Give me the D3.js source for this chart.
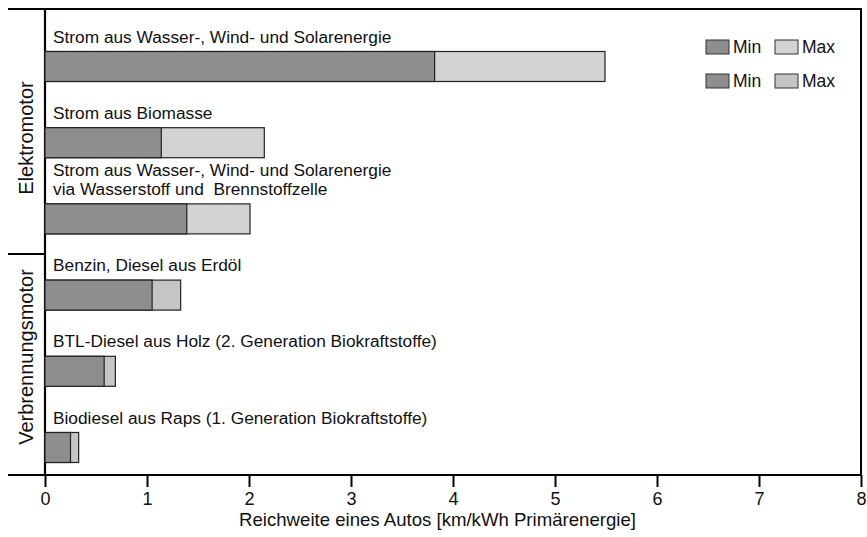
<!DOCTYPE html>
<html>
<head>
<meta charset="utf-8">
<script src="https://cdn.jsdelivr.net/npm/d3@7"></script>
<style>
  html, body { margin: 0; padding: 0; background: #fff; }
  text { font-family: "Liberation Sans", Arial, Helvetica, sans-serif; fill: #111; }
</style>
</head>
<body>
<svg id="chart" width="867" height="537"></svg>
<script>
// ---- data ----
const categories = [
  "Strom aus Wasser-, Wind- und Solarenergie",
  "Strom aus Biomasse",
  "Strom aus Wasser-, Wind- und Solarenergie|via Wasserstoff und  Brennstoffzelle",
  "Benzin, Diesel aus Erdöl",
  "BTL-Diesel aus Holz (2. Generation Biokraftstoffe)",
  "Biodiesel aus Raps (1. Generation Biokraftstoffe)"
];
const minValues = [3.82, 1.14, 1.39, 1.05, 0.58, 0.25];
const maxValues = [5.49, 2.15, 2.01, 1.33, 0.69, 0.33];
const groupNames = ["Elektromotor", "Verbrennungsmotor"];
const groupOf = [0, 0, 0, 1, 1, 1];
const xTicks = [0, 1, 2, 3, 4, 5, 6, 7, 8];
const legendLabels = ["Min", "Max"];
const axisTitle = "Reichweite eines Autos [km/kWh Primärenergie]";

// ---- styles ----
const minColor = "#8e8e8e";
const maxColors = ["#d3d3d3", "#c5c5c5"];

const svg = d3.select("#chart");
const frameTop = 9, frameLeft = 8, frameRight = 862, axisY = 475;

const x = d3.scaleLinear().domain([0, 8]).range([45, 861]);
const y = d3.scalePoint().domain(categories).range([66.5, 447.5]);
const barH = 30;

// frame lines
svg.append("line").attr("x1", frameLeft).attr("x2", frameRight).attr("y1", frameTop).attr("y2", frameTop)
  .attr("stroke", "#000").attr("stroke-width", 2.2);
svg.append("line").attr("x1", x(8)).attr("x2", x(8)).attr("y1", frameTop).attr("y2", axisY)
  .attr("stroke", "#000").attr("stroke-width", 2);
svg.append("line").attr("x1", x(0)).attr("x2", x(0)).attr("y1", frameTop).attr("y2", axisY)
  .attr("stroke", "#000").attr("stroke-width", 2.2);

// bars
const rows = categories.map((c, i) => ({ c, i, min: minValues[i], max: maxValues[i], g: groupOf[i] }));
const barG = svg.append("g");
barG.selectAll("rect.max").data(rows).join("rect").attr("class", "max")
  .attr("x", d => x(0)).attr("y", d => y(d.c) - barH / 2)
  .attr("width", d => x(d.max) - x(0)).attr("height", barH)
  .attr("fill", d => maxColors[d.g]).attr("stroke", "#222").attr("stroke-width", 1.2);
barG.selectAll("rect.min").data(rows).join("rect").attr("class", "min")
  .attr("x", d => x(0)).attr("y", d => y(d.c) - barH / 2)
  .attr("width", d => x(d.min) - x(0)).attr("height", barH)
  .attr("fill", minColor).attr("stroke", "#222").attr("stroke-width", 1.2);

// category labels
rows.forEach(d => {
  const lines = d.c.split("|");
  const top = y(d.c) - barH / 2;
  lines.forEach((ln, k) => {
    svg.append("text")
      .attr("x", 53)
      .attr("y", top - 9 - (lines.length - 1 - k) * 19)
      .attr("font-size", 17.3)
      .style("white-space", "pre")
      .text(ln);
  });
});

// group separator and labels
const sepY = (y(categories[2]) + y(categories[3])) / 2 - 3;
svg.append("line").attr("x1", frameLeft).attr("x2", x(0)).attr("y1", sepY).attr("y2", sepY)
  .attr("stroke", "#000").attr("stroke-width", 2);
const groupCenters = [138, 357];
groupNames.forEach((g, i) => {
  svg.append("text")
    .attr("transform", `translate(33,${groupCenters[i]}) rotate(-90)`)
    .attr("text-anchor", "middle")
    .attr("font-size", 20)
    .text(g);
});

// x axis
const axis = d3.axisBottom(x).tickValues(xTicks).tickSize(12).tickPadding(5).tickFormat(d3.format("d"));
const axG = svg.append("g").attr("transform", `translate(0,${axisY})`).call(axis);
axG.select(".domain").remove();
axG.selectAll(".tick line").attr("stroke", "#000").attr("stroke-width", 2);
axG.selectAll(".tick text").attr("font-size", 18).attr("fill", "#111")
  .attr("font-family", "'Liberation Sans', Arial, sans-serif");
svg.append("line").attr("x1", frameLeft).attr("x2", frameRight).attr("y1", axisY).attr("y2", axisY)
  .attr("stroke", "#000").attr("stroke-width", 2.2);

svg.append("text").attr("x", 437.5).attr("y", 526)
  .attr("text-anchor", "middle").attr("font-size", 18.6).text(axisTitle);

// legend
const legend = svg.append("g");
[0, 1].forEach(r => {
  const ly = 40 + r * 34;
  legendLabels.forEach((lab, k) => {
    const lx = 706 + k * 69;
    legend.append("rect").attr("x", lx).attr("y", ly).attr("width", 23).attr("height", 14)
      .attr("fill", k === 0 ? minColor : maxColors[r]).attr("stroke", "#333").attr("stroke-width", 1);
    legend.append("text").attr("x", lx + 27).attr("y", ly + 13).attr("font-size", 17.5).text(lab);
  });
});
</script>
</body>
</html>
